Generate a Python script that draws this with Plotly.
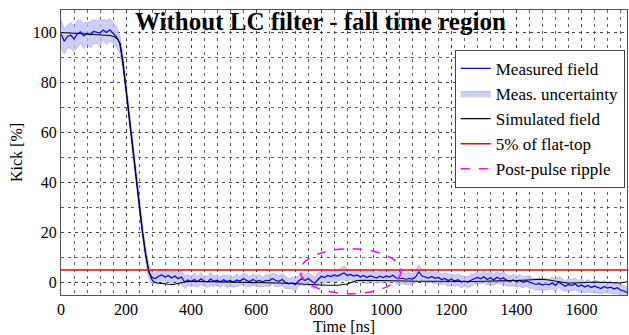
import plotly.graph_objects as go
import numpy as np

# ---------------- data ----------------
meas_time = list(range(0, 1750, 10))  # ns
meas_kick = [
    99.5, 96.5, 98.4, 98.9, 97.4, 99.4, 100.3, 98.6, 99.7, 99.1,
    100.4, 100.2, 99.8, 101.0, 100.0, 101.1, 99.8, 98.4, 95.8, 89.0,
    77.5, 66.0, 54.5, 43.0, 31.5, 21.0, 11.5, 4.2, 2.0, 1.6,
    2.5, 3.0, 2.2, 2.8, 1.8, 2.6, 1.5, 2.2, 0.2, 1.0,
    0.4, 1.2, 0.3, 1.5, 0.6, 0.2, 1.4, 0.5, 0.9, 0.2,
    1.1, 0.4, 0.8, 0.1, 1.0, 0.6, 1.5, 0.9, 0.3, 1.2,
    0.5, 0.8, 0.2, 0.9, 0.7, 1.6, 0.8, 0.5, 1.2, 0.0,
    -0.5, -0.2, -0.8, 0.6, 1.5, 0.8, 1.6, 0.5, -0.3, 1.2,
    2.5, 2.0, 2.8, 2.4, 3.0, 2.6, 3.3, 3.8, 2.9, 3.2,
    2.6, 3.0, 2.2, 2.8, 2.0, 2.6, 2.3, 1.8, 2.5, 2.0,
    2.6, 2.2, 2.9, 1.8, 1.5, 1.7, 1.3, 1.6, 1.4, 2.2,
    4.3, 2.6, 2.2, 1.8, 2.4, 1.7, 2.0, 1.2, 1.6, 0.8,
    1.3, 0.6, 1.1, 0.3, 0.6, 0.2, 0.9, 1.4, 2.0, 1.5,
    2.3, 1.2, 1.9, 1.0, 2.1, 1.4, 1.8, 0.9, 0.5, 1.0,
    0.3, 0.8, 0.1, 0.6, 0.2, -0.4, -0.8, -0.5, -1.0, -0.6,
    -0.9, -0.2, -1.2, 0.2, -0.6, -1.5, -0.8, -1.2, -0.5, -1.6,
    -1.0, -1.8, -1.2, -2.0, -1.5, -1.8, -2.4, -1.6, -2.2, -1.9,
    -2.6, -2.1, -3.0, -3.4, -4.0,
]
meas_unc = [
    5.5, 5.0, 4.5, 5.2, 4.8, 5.5, 4.6, 5.0, 4.4, 5.2,
    4.8, 4.5, 5.0, 4.2, 4.8, 4.5, 4.0, 4.2,
    3.5, 3.0, 3.0, 3.0, 3.0, 3.0, 3.0, 3.0, 2.8, 2.8,
    2.4, 2.0, 2.6, 2.2, 2.8, 2.1, 2.5, 1.9, 2.3, 2.7,
    2.6, 2.2, 2.0, 2.5, 2.1, 2.4, 1.8, 2.2, 2.6, 2.0,
    2.3, 2.1, 1.9, 2.4, 2.2, 2.0, 2.5, 1.8, 2.2, 2.4,
    2.0, 2.3, 2.1, 2.5, 1.9, 2.2, 2.4, 2.0, 2.6, 2.1,
    2.3, 2.5, 2.0, 2.2, 2.7, 2.1, 2.4, 2.0, 2.3, 2.6,
    2.2, 2.4, 2.0, 2.6, 2.3, 2.1, 2.5, 2.2, 2.4, 2.8,
    2.3, 2.1, 2.5, 2.2, 2.0, 2.4, 2.6, 2.1, 2.3, 2.0,
    2.4, 2.2, 2.0, 2.5, 2.1, 2.3, 2.6, 2.0, 2.2, 2.4,
    2.1, 2.3, 2.8, 2.2, 2.5, 2.0, 2.3, 2.1, 2.4, 2.0,
    2.2, 2.5, 2.0, 2.3, 2.1, 2.4, 2.0, 2.2, 2.5, 2.1,
    2.3, 2.0, 2.4, 2.2, 2.6, 2.1, 2.3, 2.0, 2.5, 2.2,
    2.0, 2.3, 2.1, 2.4, 2.2, 2.0, 2.5, 2.1, 2.3, 2.6,
    2.2, 2.4, 2.0, 2.3, 2.6, 2.1, 2.4, 2.0, 2.5, 2.2,
    2.3, 2.1, 2.6, 2.2, 2.4, 2.0, 2.5, 2.3, 2.1, 2.4,
    2.2, 2.5, 2.0, 2.4, 2.1, 2.3, 2.2,
]
sim_time = [0, 40, 80, 120, 150, 165, 175, 182, 190, 200, 210, 220, 230, 240, 250,
            260, 270, 278, 285, 295, 310, 330, 345, 360, 380, 400, 450, 500, 550, 600,
            650, 700, 750, 790, 820, 850, 870, 880, 890, 900, 910, 930, 960, 1000, 1050,
            1100, 1150, 1200, 1250, 1300, 1350, 1400, 1450, 1475, 1500, 1530, 1555, 1580,
            1610, 1640, 1680, 1720, 1740]
sim_kick = [100.0, 99.6, 99.3, 99.1, 98.8, 98.3, 97.2, 95.5, 88.0, 77.0, 65.5, 54.0, 42.5,
            31.0, 20.5, 11.5, 4.5, 1.5, 0.3, -0.2, -0.5, -0.7, -0.8, -0.3, 0.2, 0.5, 0.4,
            0.3, 0.2, 0.1, 0.0, -0.3, -0.7, -1.0, -1.1, -1.1, -0.9, -0.6, -0.1, 0.4, 0.8,
            0.9, 0.8, 0.7, 0.6, 0.5, 0.5, 0.4, 0.4, 0.5, 0.6, 0.8, 1.1, 1.3, 1.0, 0.4,
            -0.2, -0.2, 0.0, 0.2, 0.0, -0.2, 0.3]
flat_top_limit = 5.0            # 5 % of flat-top
ripple_region_x = [735, 1045]   # ns, dashed ellipse extent
ripple_region_y = [-4.5, 13.5]  # %
x_range = [0, 1740]
y_range = [-5, 109]
x_ticks = [0, 200, 400, 600, 800, 1000, 1200, 1400, 1600]
y_ticks = [0, 20, 40, 60, 80, 100]

FONT = "Liberation Serif"

t = np.array(meas_time, dtype=float)
m = np.array(meas_kick)
u = np.array(meas_unc)
band_x = np.concatenate([t, t[::-1]])
band_y = np.concatenate([m + u, (m - u)[::-1]])

fig = go.Figure()
fig.add_trace(go.Scatter(
    x=band_x, y=band_y, fill="toself", mode="lines",
    fillcolor="rgba(190,190,250,0.75)",
    line=dict(color="rgba(140,140,245,0.8)", width=0.6),
    name="Meas. uncertainty", legendrank=2, hoverinfo="skip"))
fig.add_trace(go.Scatter(
    x=meas_time, y=meas_kick, mode="lines",
    line=dict(color="#0000ee", width=1.2),
    name="Measured field", legendrank=1))
fig.add_trace(go.Scatter(
    x=sim_time, y=sim_kick, mode="lines",
    line=dict(color="black", width=1.1),
    name="Simulated field", legendrank=3))
fig.add_trace(go.Scatter(
    x=x_range, y=[flat_top_limit, flat_top_limit], mode="lines",
    line=dict(color="#ff0000", width=1.5),
    name="5% of flat-top", legendrank=4))
fig.add_trace(go.Scatter(
    x=[None], y=[None], mode="lines",
    line=dict(color="#ff00ff", width=1.5, dash="dash"),
    name="Post-pulse ripple", legendrank=5))

fig.add_shape(type="circle", xref="x", yref="y",
              x0=ripple_region_x[0], x1=ripple_region_x[1],
              y0=ripple_region_y[0], y1=ripple_region_y[1],
              line=dict(color="#ff00ff", width=1.5, dash="dash"))

fig.add_annotation(text="<b>Without LC filter - fall time region</b>",
                   xref="paper", yref="paper", x=0.4576, y=0.959,
                   xanchor="center", yanchor="middle", showarrow=False,
                   font=dict(family=FONT, size=25, color="black"))

grid_col = "rgba(60,60,60,0.8)"
fig.update_xaxes(range=x_range, tickvals=x_ticks, showgrid=True, gridcolor=grid_col,
                 griddash="3px,4px", gridwidth=1,
                 minor=dict(dtick=40, tick0=0, showgrid=True, gridcolor=grid_col,
                            griddash="3px,4px", gridwidth=1),
                 showline=True, linecolor="#555", linewidth=1, mirror=True,
                 zeroline=False, ticks="",
                 tickfont=dict(family=FONT, size=16, color="black"),
                 title=dict(text="Time [ns]", standoff=2,
                            font=dict(family=FONT, size=16, color="black")))
fig.update_yaxes(range=y_range, tickvals=y_ticks, showgrid=True, gridcolor=grid_col,
                 griddash="3px,4px", gridwidth=1,
                 minor=dict(dtick=10, tick0=0, showgrid=True, gridcolor=grid_col,
                            griddash="3px,4px", gridwidth=1),
                 showline=True, linecolor="#555", linewidth=1, mirror=True,
                 zeroline=False, ticks="",
                 tickfont=dict(family=FONT, size=16, color="black"),
                 title=dict(text="Kick [%]", standoff=6,
                            font=dict(family=FONT, size=16, color="black")))

fig.update_layout(
    width=629, height=335,
    margin=dict(l=61, r=2, t=10, b=40),
    paper_bgcolor="white", plot_bgcolor="white",
    showlegend=True,
    legend=dict(x=0.996, y=0.86, xanchor="right", yanchor="top",
                bgcolor="white", bordercolor="#444", borderwidth=1,
                font=dict(family=FONT, size=17, color="black"),
                tracegroupgap=0, itemwidth=30),
)

fig.write_html("out.html")
